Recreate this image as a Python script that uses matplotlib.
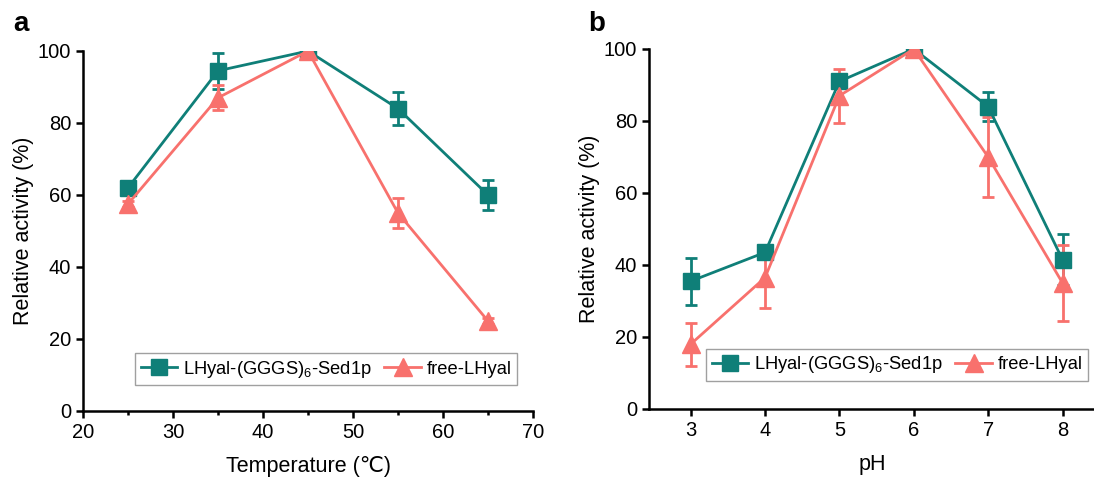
import matplotlib
matplotlib.use("Agg")
import matplotlib.pyplot as plt
from matplotlib.lines import Line2D
from matplotlib.ticker import MultipleLocator

plt.rcParams['font.family'] = ['Liberation Sans', 'DejaVu Sans']
plt.rcParams['mathtext.fontset'] = 'custom'
plt.rcParams['mathtext.rm'] = 'Liberation Sans'
plt.rcParams['mathtext.it'] = 'Liberation Sans'

# panel a: temperature
temp = [25, 35, 45, 55, 65]
temp_fused = [62, 94.5, 100, 84, 60]
temp_fused_err = [1.5, 5, 0.5, 4.5, 4.3]
temp_free = [57.5, 87, 100, 55, 25]
temp_free_err = [0.8, 3.5, 0.5, 4.3, 0.8]

# panel b: pH
ph = [3, 4, 5, 6, 7, 8]
ph_fused = [35.5, 43.5, 91, 100, 84, 41.5]
ph_fused_err = [6.5, 1.5, 1.5, 0.5, 4, 7]
ph_free = [18, 36.5, 87, 100, 70, 35]
ph_free_err = [6, 8.5, 7.5, 0.5, 11, 10.5]

teal = '#0f7f78'
salmon = '#f8716d'
lab_fused = 'LHyal-(GGGS)$_6$-Sed1p'
lab_free = 'free-LHyal'

W, H = 1094, 478
fig = plt.figure(figsize=(W / 100, H / 100), dpi=100)
ax1 = fig.add_axes([83 / W, 1 - 411 / H, 450 / W, 360 / H])
ax2 = fig.add_axes([649 / W, 1 - 409 / H, 447 / W, 360 / H])

sq = dict(color=teal, marker='s', markersize=11, lw=2.0)
tri = dict(color=salmon, marker='^', markersize=12.5, lw=2.0)


def draw(ax, x, y1, e1, y2, e2, anchor):
    ax.errorbar(x, y1, yerr=e1, capsize=4, capthick=2, elinewidth=2, **sq)
    ax.errorbar(x, y2, yerr=e2, capsize=4, capthick=2, elinewidth=2, **tri)
    for s in ['top', 'right']:
        ax.spines[s].set_visible(False)
    for s in ['left', 'bottom']:
        ax.spines[s].set_linewidth(1.8)
    ax.set_ylim(0, 100)
    ax.yaxis.set_major_locator(MultipleLocator(20))
    ax.tick_params(which='major', direction='out', length=5, width=1.8, labelsize=14.5)
    ax.tick_params(which='minor', direction='out', length=3, width=1.8)
    ax.set_ylabel('Relative activity (%)', fontsize=15.5, labelpad=3)
    handles = [Line2D([], [], **sq), Line2D([], [], **tri)]
    leg = ax.legend(handles, [lab_fused, lab_free], ncol=2, fontsize=13.2,
                    frameon=True, fancybox=False, edgecolor='#888888',
                    handlelength=2.0, columnspacing=0.7, handletextpad=0.3,
                    borderpad=0.3, borderaxespad=0, loc='lower left',
                    bbox_to_anchor=anchor)
    leg.get_frame().set_linewidth(1.0)


draw(ax1, temp, temp_fused, temp_fused_err, temp_free, temp_free_err, (0.116, 0.072))
ax1.set_xlim(20, 70)
ax1.xaxis.set_major_locator(MultipleLocator(10))
ax1.xaxis.set_minor_locator(MultipleLocator(5))
ax1.set_xlabel('Temperature (\u2103)', fontsize=15.5, labelpad=10)

draw(ax2, ph, ph_fused, ph_fused_err, ph_free, ph_free_err, (0.128, 0.078))
ax2.set_xlim(2.44, 8.45)
ax2.set_xticks(ph)
ax2.set_xlabel('pH', fontsize=15.5, labelpad=10)

fig.text(13 / W, 1 - 31 / H, 'a', fontsize=20, fontweight='bold')
fig.text(588 / W, 1 - 31 / H, 'b', fontsize=20, fontweight='bold')

fig.savefig('out.png', dpi=100)
